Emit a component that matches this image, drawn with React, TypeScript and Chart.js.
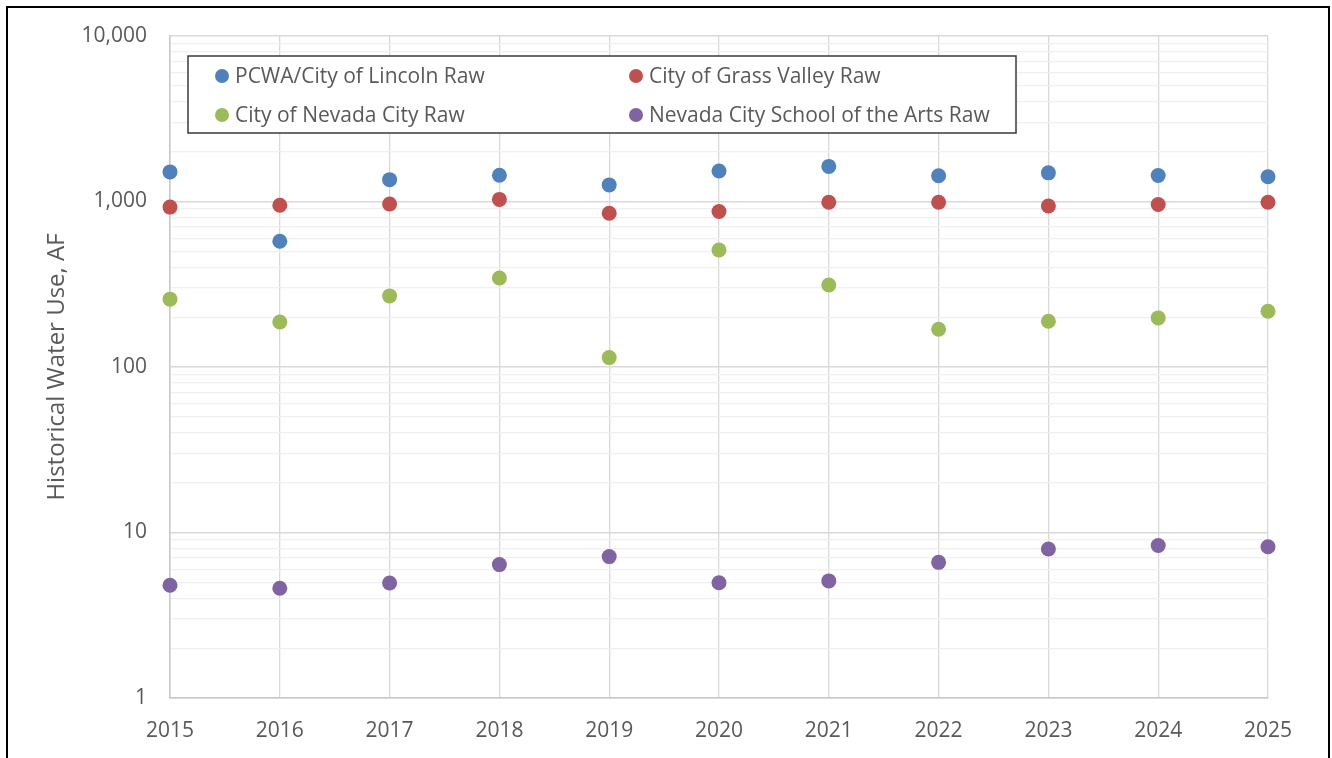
import React, { useEffect, useRef } from 'react';
import { Chart, registerables } from 'chart.js';

Chart.register(...registerables);

const years = ['2015', '2016', '2017', '2018', '2019', '2020', '2021', '2022', '2023', '2024', '2025'];
const pcwaLincoln = [1510, 575, 1355, 1440, 1260, 1530, 1630, 1430, 1490, 1435, 1410];
const grassValley = [925, 950, 965, 1030, 850, 870, 990, 990, 940, 960, 990];
const nevadaCity = [257, 187, 269, 345, 114, 509, 313, 169, 189, 198, 217];
const schoolOfArts = [4.8, 4.6, 4.95, 6.4, 7.15, 4.97, 5.1, 6.6, 7.95, 8.35, 8.2];

const yMajorTicks = [1, 10, 100, 1000, 10000];
const seriesNames = [
  'PCWA/City of Lincoln Raw',
  'City of Grass Valley Raw',
  'City of Nevada City Raw',
  'Nevada City School of the Arts Raw',
];
const seriesColors = ['#4F81BD', '#C0504D', '#9BBB59', '#8064A2'];
const yTitle = 'Historical Water Use, AF';

const FONT = '"Open Sans", sans-serif';
const TEXT = '#595959';

export default function App() {
  const ref = useRef<HTMLCanvasElement>(null);

  useEffect(() => {
    document.body.style.margin = '0';
    const canvas = ref.current;
    if (!canvas) return;

    const framePlugin = {
      id: 'frame',
      afterDraw(chart: any) {
        const ctx = chart.ctx;
        ctx.save();
        ctx.strokeStyle = '#000000';
        ctx.lineWidth = 2;
        ctx.strokeRect(7, 7, 1322, 800);
        ctx.restore();
      },
    };

    const legendPlugin = {
      id: 'boxLegend',
      afterDraw(chart: any) {
        const ctx = chart.ctx;
        const bx = 188, by = 56, bw = 828, bh = 77;
        ctx.save();
        ctx.fillStyle = '#FFFFFF';
        ctx.fillRect(bx, by, bw, bh);
        ctx.strokeStyle = '#3A3A3A';
        ctx.lineWidth = 1.5;
        ctx.strokeRect(bx, by, bw, bh);
        ctx.font = `21px ${FONT}`;
        ctx.textBaseline = 'middle';
        ctx.textAlign = 'left';
        const colX = [222, 636];
        const rowY = [76, 115];
        chart.data.datasets.forEach((ds: any, i: number) => {
          const cx = colX[i % 2];
          const cy = rowY[Math.floor(i / 2)];
          ctx.fillStyle = ds.backgroundColor;
          ctx.beginPath();
          ctx.arc(cx, cy, 7, 0, Math.PI * 2);
          ctx.fill();
          ctx.fillStyle = TEXT;
          ctx.fillText(ds.label, cx + 13, cy + 1);
        });
        ctx.restore();
      },
    };

    const allSeries = [pcwaLincoln, grassValley, nevadaCity, schoolOfArts];

    const chart = new Chart(canvas, {
      type: 'line',
      data: {
        labels: years,
        datasets: allSeries.map((d, i) => ({
          label: seriesNames[i],
          data: d,
          showLine: false,
          backgroundColor: seriesColors[i],
          borderColor: seriesColors[i],
          pointBackgroundColor: seriesColors[i],
          pointBorderWidth: 0,
          pointRadius: 7.5,
          clip: false as any,
        })),
      },
      options: {
        responsive: false,
        devicePixelRatio: 1,
        animation: false,
        layout: { padding: { top: 36, right: 64, bottom: 0, left: 0 } },
        plugins: {
          legend: { display: false },
          tooltip: { enabled: false },
        },
        scales: {
          x: {
            type: 'category',
            offset: false,
            grid: {
              color: '#D9D9D9',
              lineWidth: 1.3,
              drawTicks: false,
              offset: false,
            },
            border: { color: '#C9C9C9', width: 1.5 },
            ticks: {
              color: TEXT,
              font: { family: FONT, size: 21 },
              padding: 20,
              maxRotation: 0,
              autoSkip: false,
            },
            afterFit: (scale: any) => {
              scale.height = 60;
            },
          },
          y: {
            type: 'logarithmic',
            min: 1,
            max: 10000,
            afterBuildTicks: (scale: any) => {
              const t: any[] = [];
              for (let i = 0; i < yMajorTicks.length; i++) {
                const m = yMajorTicks[i];
                t.push({ value: m, major: true });
                if (i < yMajorTicks.length - 1) {
                  for (let k = 2; k <= 9; k++) t.push({ value: m * k, major: false });
                }
              }
              scale.ticks = t;
            },
            grid: {
              drawTicks: false,
              color: (ctx: any) =>
                ctx.tick && yMajorTicks.includes(ctx.tick.value) ? '#D9D9D9' : '#F0F0F0',
              lineWidth: (ctx: any) =>
                ctx.tick && yMajorTicks.includes(ctx.tick.value) ? 1.5 : 1.3,
            },
            border: { color: '#C9C9C9', width: 1.5 },
            ticks: {
              autoSkip: false,
              color: TEXT,
              font: { family: FONT, size: 21 },
              padding: 23,
              callback: (v: any) =>
                yMajorTicks.includes(Number(v)) ? Number(v).toLocaleString('en-US') : '',
            },
            title: {
              display: true,
              text: yTitle,
              color: TEXT,
              font: { family: FONT, size: 24, weight: 'normal' },
              padding: { top: 43, bottom: 0 },
            },
            afterFit: (scale: any) => {
              scale.width = 170;
            },
          },
        },
      },
      plugins: [framePlugin, legendPlugin],
    } as any);

    return () => chart.destroy();
  }, []);

  return (
    <div style={{ width: 1332, height: 758, overflow: 'hidden' }}>
      <canvas ref={ref} width={1332} height={758} style={{ display: 'block', width: 1332, height: 758 }} />
    </div>
  );
}
